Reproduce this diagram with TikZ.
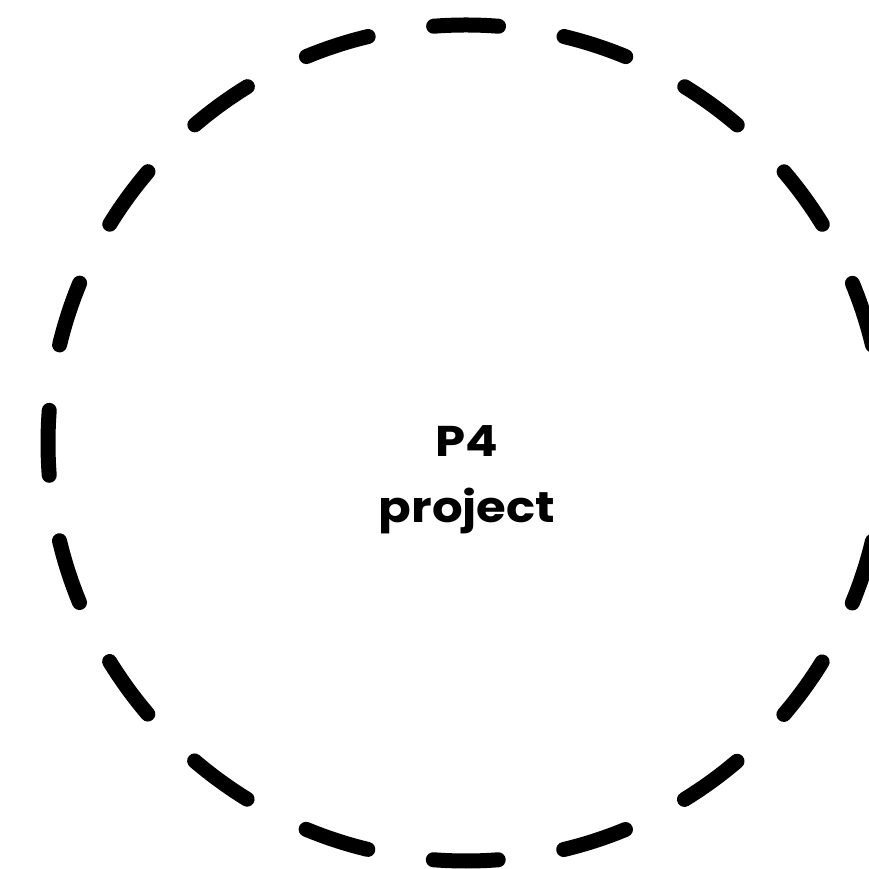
\documentclass[tikz,border=0pt]{standalone}
\usepackage{fontspec}
\setmainfont{Poppins}[FakeStretch=1.12]
\usetikzlibrary{positioning}

\begin{document}
\begin{tikzpicture}[
    x=1pt, y=1pt,
    ring/.style  = {circle, draw, line width=15pt, line cap=round,
                    dash pattern=on 65pt off 66.32pt, dash phase=32.5pt,
                    minimum size=836pt, inner sep=0pt},
    title/.style = {align=center, inner sep=0pt,
                    font=\fontsize{43}{66}\selectfont\bfseries}
]
\useasboundingbox (0,0) rectangle (868,869);
\node[ring]                     (boundary) at (466,426) {};
\node[title, anchor=base]       (name)     at (467,346) {P4\\project};
\end{tikzpicture}
\end{document}
